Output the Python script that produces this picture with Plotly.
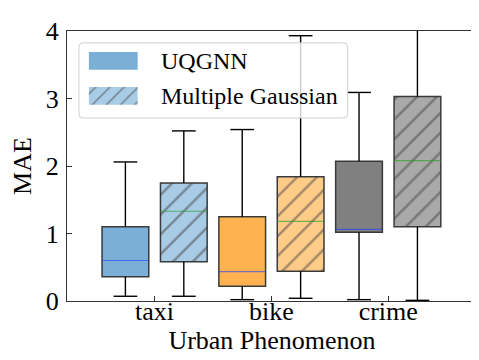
import plotly.graph_objects as go

# Categories and box statistics
categories = ["taxi", "bike", "crime"]

uq_lower = [0.07, 0.02, 0.02]
uq_q1 = [0.36, 0.22, 1.02]
uq_median = [0.60, 0.435, 1.06]
uq_q3 = [1.10, 1.25, 2.07]
uq_upper = [2.06, 2.54, 3.09]

mg_lower = [0.07, 0.04, 0.01]
mg_q1 = [0.58, 0.44, 1.10]
mg_median = [1.33, 1.18, 2.08]
mg_q3 = [1.75, 1.84, 3.03]
mg_upper = [2.52, 3.93, 4.60]

uq_colors = ["#7aafd6", "#ffb24f", "#808080"]
mg_colors = ["#a8cbe6", "#ffcc88", "#a9a9a9"]

FONT = "Liberation Serif"
EDGE = "#3a3a3a"

fig = go.Figure()

# box bodies as bars (bars support hatch patterns)
fig.add_trace(go.Bar(
    x=categories, base=uq_q1, y=[b - a for a, b in zip(uq_q1, uq_q3)],
    offsetgroup="uq", marker=dict(color=uq_colors, line=dict(width=1.5, color=EDGE)),
    showlegend=False, hoverinfo="skip"
))
fig.add_trace(go.Bar(
    x=categories, base=mg_q1, y=[b - a for a, b in zip(mg_q1, mg_q3)],
    offsetgroup="mg",
    marker=dict(color=mg_colors, line=dict(width=1.5, color=EDGE),
                pattern=dict(shape="/", size=14, solidity=0.18, fgcolor="#444444")),
    showlegend=False, hoverinfo="skip"
))

# medians as thin coloured lines (degenerate boxes)
for med, grp, col in [(uq_median, "uq", "rgba(30,60,255,0.6)"),
                      (mg_median, "mg", "rgba(40,160,40,0.65)")]:
    fig.add_trace(go.Box(
        x=categories, q1=med, median=med, q3=med, lowerfence=med, upperfence=med,
        offsetgroup=grp, fillcolor="rgba(0,0,0,0)",
        line=dict(color=col, width=1.2), whiskerwidth=0,
        showlegend=False, hoverinfo="skip"
    ))

# whiskers and caps
for q1, q3, lo, hi, grp in [(uq_q1, uq_q3, uq_lower, uq_upper, "uq"),
                            (mg_q1, mg_q3, mg_lower, mg_upper, "mg")]:
    wx, wy = [], []
    for c, a, b, l, h in zip(categories, q1, q3, lo, hi):
        wx += [c, c, None, c, c, None]
        wy += [b, h, None, a, l, None]
    fig.add_trace(go.Scatter(
        x=wx, y=wy, mode="lines", offsetgroup=grp, orientation="v",
        line=dict(color="black", width=1.4),
        showlegend=False, hoverinfo="skip"
    ))
    fig.add_trace(go.Scatter(
        x=categories + categories, y=hi + lo, mode="markers",
        offsetgroup=grp, orientation="v",
        marker=dict(symbol="line-ew", size=17, color="black",
                    line=dict(color="black", width=1.4)),
        showlegend=False, hoverinfo="skip"
    ))

# legend drawn in a pixel-unit overlay subplot
fig.add_trace(go.Bar(
    y=[50.3, 85.5], base=[80, 80], x=[49, 49], width=18, orientation="h",
    xaxis="x2", yaxis="y2",
    marker=dict(color=[uq_colors[0], mg_colors[0]], line=dict(width=0),
                pattern=dict(shape=["", "/"], size=10, solidity=0.16, fgcolor="#444444")),
    showlegend=False, hoverinfo="skip"
))

fig.update_layout(
    width=479, height=360,
    margin=dict(l=58, r=9, t=20, b=67),
    paper_bgcolor="white", plot_bgcolor="rgba(0,0,0,0)",
    font=dict(family=FONT, size=26, color="black"),
    barmode="group", bargap=0, bargroupgap=0.2,
    boxmode="group", boxgap=0, boxgroupgap=0.2,
    scattermode="group", scattergap=0,
    showlegend=False,
    xaxis=dict(
        type="category", range=[-0.75, 2.76],
        showline=True, mirror=True, linecolor="#333333", linewidth=1.3,
        ticks="inside", ticklen=5, tickcolor="#333333", ticklabelstandoff=-13,
        showgrid=False, zeroline=False,
        tickfont=dict(family=FONT, size=26),
        title=dict(text="Urban Phenomenon", font=dict(family=FONT, size=26), standoff=0),
    ),
    yaxis=dict(
        range=[0, 4], dtick=1,
        showline=True, mirror=True, linecolor="#333333", linewidth=1.3,
        ticks="inside", ticklen=5, tickcolor="#333333", ticklabelstandoff=2,
        showgrid=False, zeroline=False,
        tickfont=dict(family=FONT, size=26),
        title=dict(text="MAE", font=dict(family=FONT, size=26), standoff=10),
    ),
    xaxis2=dict(domain=[0, 1], range=[58, 470], visible=False, fixedrange=True,
                anchor="y2"),
    yaxis2=dict(domain=[0, 1], range=[293, 20], visible=False, fixedrange=True,
                anchor="x2"),
    shapes=[dict(
        type="path", xref="x2", yref="y2", layer="below",
        path="M74,32 H336 Q340,32 340,36 V104 Q340,108 336,108 H74 Q70,108 70,104 V36 Q70,32 74,32 Z",
        fillcolor="rgba(255,255,255,0.8)", line=dict(color="#d0d0d0", width=1),
    )],
    annotations=[
        dict(text="UQGNN", x=150, y=50.5, xref="x2", yref="y2", xanchor="left",
             yanchor="middle", showarrow=False, font=dict(family=FONT, size=24)),
        dict(text="Multiple Gaussian", x=150, y=86, xref="x2", yref="y2", xanchor="left",
             yanchor="middle", showarrow=False, font=dict(family=FONT, size=24)),
    ],
)

fig.write_html("out.html")
